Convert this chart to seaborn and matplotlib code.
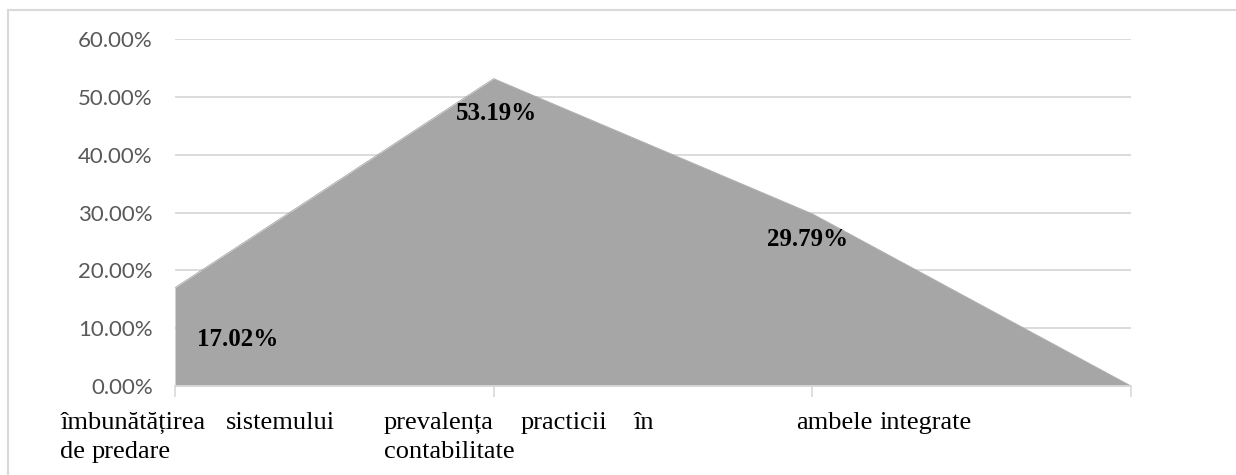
import numpy as np
import pandas as pd
import matplotlib
matplotlib.use("Agg")
import matplotlib.pyplot as plt
import seaborn as sns
from matplotlib.lines import Line2D

# ---- data ----
categories = ["îmbunătățirea sistemului de predare",
              "prevalența practicii în contabilitate",
              "ambele integrate",
              ""]
values = [17.02, 53.19, 29.79, 0.0]
value_labels = ["17.02%", "53.19%", "29.79%"]
label_lines = [["îmbunătățirea sistemului", "de predare"],
               ["prevalența practicii în", "contabilitate"],
               ["ambele integrate"]]
yticks = [0, 10, 20, 30, 40, 50, 60]
ytick_labels = ["0.00%", "10.00%", "20.00%", "30.00%", "40.00%", "50.00%", "60.00%"]

# ---- style ----
sns.set_theme(style="white")
plt.rcParams['font.family'] = ['Lato', 'DejaVu Sans']

W, H = 1236, 475
fig = plt.figure(figsize=(W / 100, H / 100), dpi=100)
fig.patch.set_facecolor("white")
ax = fig.add_axes([175 / W, 1 - 386 / H, (1131 - 175) / W, (386 - 39.3) / H])

df = pd.DataFrame({"pos": np.arange(len(values)), "value": values})
ax.fill_between(df["pos"], df["value"], color="#a6a6a6", lw=0, zorder=2)
sns.lineplot(data=df, x="pos", y="value", color="#a6a6a6", lw=0.6, ax=ax, zorder=2)

ax.set_xlim(0, len(values) - 1)
ax.set_ylim(0, 60)
ax.set_yticks(yticks)
ax.set_yticklabels(ytick_labels, color="#595959", fontsize=16)
ax.tick_params(axis="y", length=0, pad=16)
ax.set_xticks(df["pos"])
ax.set_xticklabels([])
ax.tick_params(axis="x", length=8, width=1.2, color="#d9d9d9", direction="out", bottom=True)
ax.set_xlabel("")
ax.set_ylabel("")
ax.yaxis.grid(True, color="#d9d9d9", lw=1.3, zorder=0)
ax.xaxis.grid(False)
ax.set_axisbelow(True)
for s in ["left", "right", "top"]:
    ax.spines[s].set_visible(False)
ax.spines["bottom"].set_color("#d9d9d9")
ax.spines["bottom"].set_linewidth(1.3)
ax.spines["bottom"].set_zorder(3)

# ---- value labels ----
label_offsets = [(63, -52), (3, -35), (-5, -26)]
for i, txt in enumerate(value_labels):
    ax.annotate(txt, xy=(i, values[i]), xytext=label_offsets[i],
                textcoords="offset pixels", ha="center", va="center",
                fontsize=18, fontweight="bold", family="Liberation Serif",
                color="black", zorder=5)

# ---- category labels (justified) ----
renderer = fig.canvas.get_renderer()
block_left = [-115, -110, -16]
block_width = [275, 270, 270]
baselines = [429, 458]
for i, lines in enumerate(label_lines):
    tick_px = ax.transData.transform((i, 0))[0]
    left = tick_px + block_left[i]
    for j, line in enumerate(lines):
        ypx = baselines[j]
        words = line.split(" ")
        texts = [fig.text(0, 1 - ypx / H, w, fontsize=19, family="Liberation Serif",
                          color="black", ha="left", va="baseline") for w in words]
        widths = [t.get_window_extent(renderer).width for t in texts]
        last = (j == len(lines) - 1)
        if last or len(words) == 1:
            gap = texts[0].get_fontsize() * 100 / 72 * 0.25
        else:
            gap = (block_width[i] - sum(widths)) / (len(words) - 1)
        x = left
        for t, wd in zip(texts, widths):
            t.set_x(x / W)
            x += wd + gap

# ---- outer border (top and left only) ----
fig.add_artist(Line2D([8 / W, 1.0], [1 - 10 / H, 1 - 10 / H], color="#d9d9d9", lw=1.5,
                      transform=fig.transFigure))
fig.add_artist(Line2D([8 / W, 8 / W], [0.0, 1 - 10 / H], color="#d9d9d9", lw=1.5,
                      transform=fig.transFigure))

fig.savefig("out.png", dpi=100)
